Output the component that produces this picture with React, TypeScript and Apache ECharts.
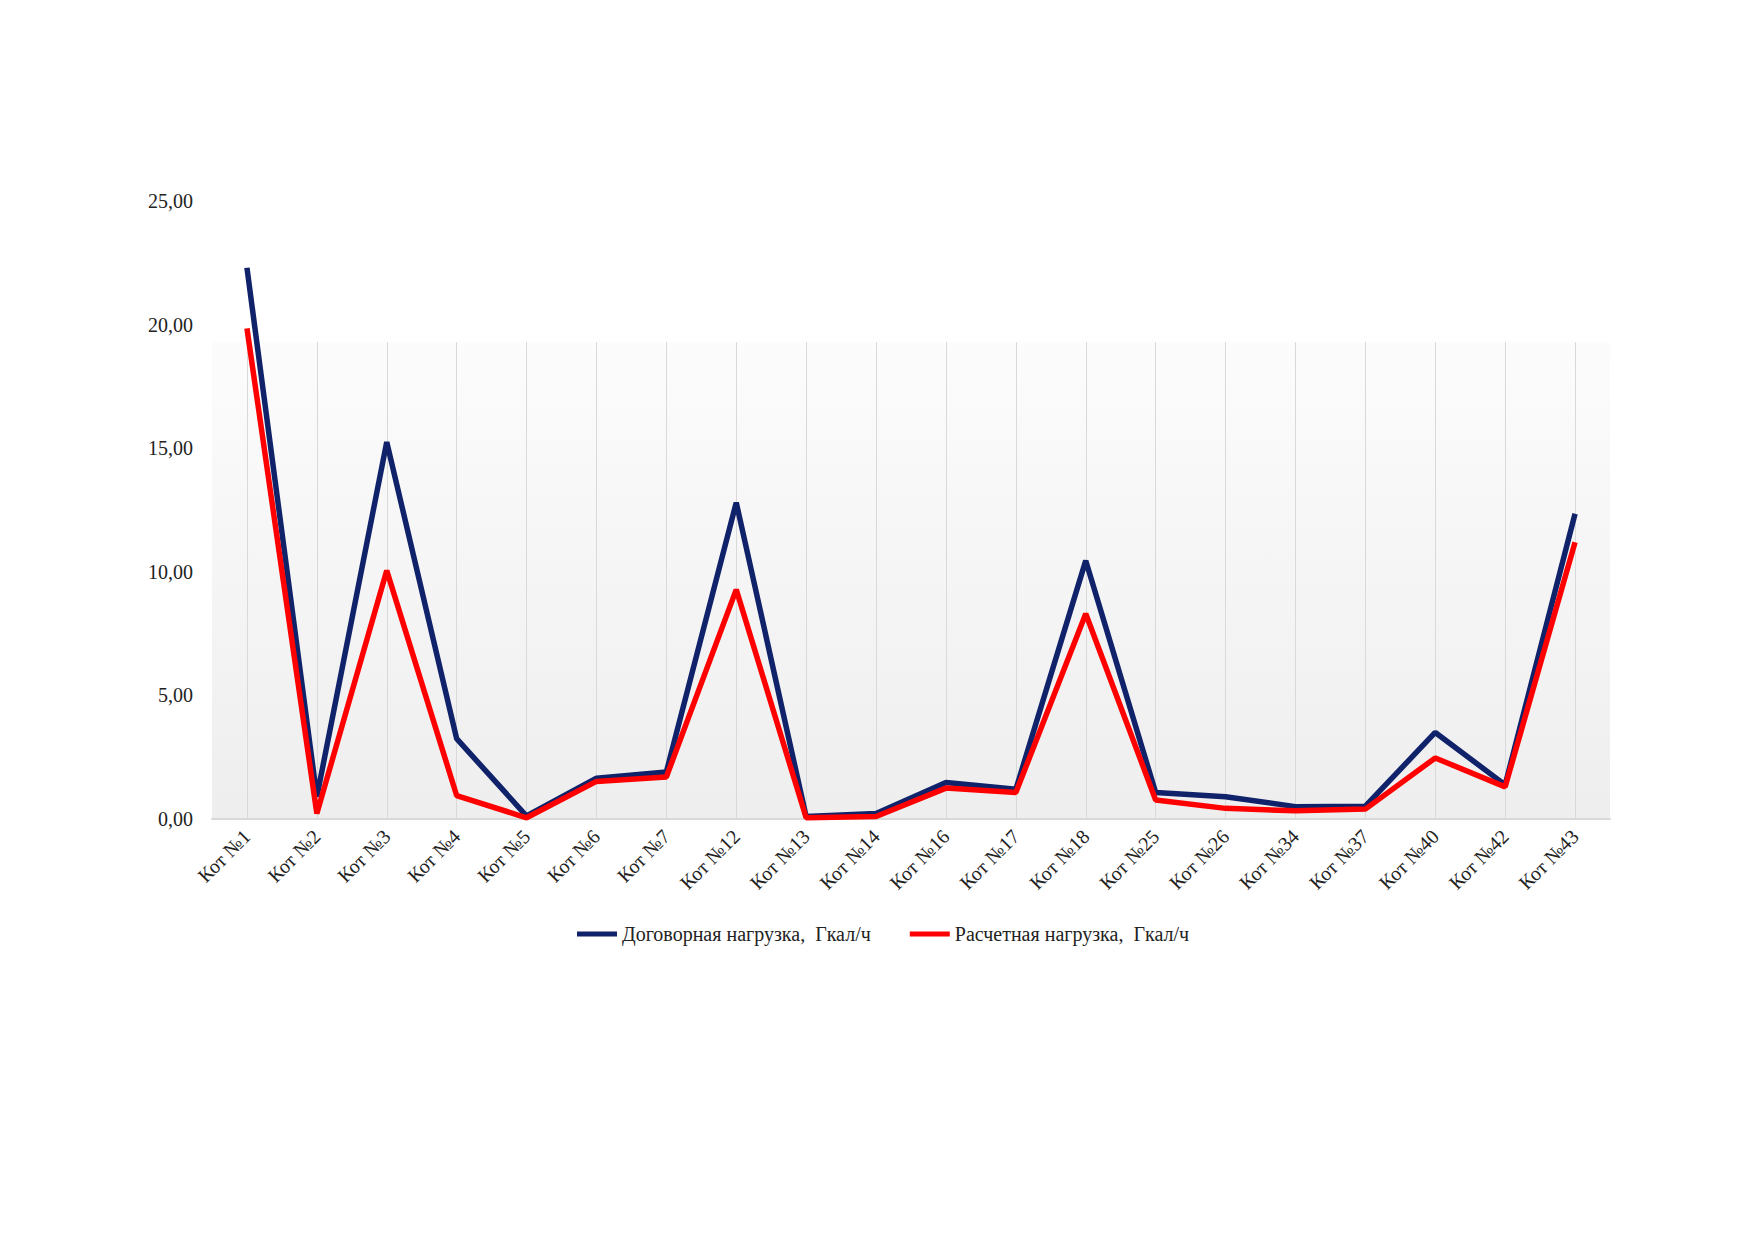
import React, { useEffect, useRef } from "react";
import * as echarts from "echarts";

const categories = [
  "Кот №1", "Кот №2", "Кот №3", "Кот №4", "Кот №5", "Кот №6", "Кот №7",
  "Кот №12", "Кот №13", "Кот №14", "Кот №16", "Кот №17", "Кот №18",
  "Кот №25", "Кот №26", "Кот №34", "Кот №37", "Кот №40", "Кот №42", "Кот №43",
];

const contractName = "Договорная нагрузка,  Гкал/ч";
const contractLoad = [
  22.3, 0.9, 15.25, 3.25, 0.12, 1.65, 1.9, 12.8, 0.1, 0.22,
  1.48, 1.2, 10.45, 1.07, 0.9, 0.5, 0.52, 3.5, 1.38, 12.35,
];

const calcName = "Расчетная нагрузка,  Гкал/ч";
const calcLoad = [
  19.85, 0.22, 10.05, 0.95, 0.05, 1.52, 1.7, 9.28, 0.05, 0.1,
  1.25, 1.07, 8.3, 0.77, 0.43, 0.33, 0.4, 2.47, 1.3, 11.2,
];

const yTicks = { min: 0, max: 25, interval: 5 };

const FONT = "'Liberation Serif', 'Times New Roman', serif";

export default function App() {
  const ref = useRef<HTMLDivElement>(null);
  useEffect(() => {
    if (!ref.current) return;
    const chart = echarts.init(ref.current, undefined, { renderer: "svg" });
    const gridLeft = 212;
    const gridRight = 142;
    const gridBottom = 420;
    chart.setOption({
      animation: false,
      backgroundColor: "#ffffff",
      textStyle: { fontFamily: FONT },
      grid: [
        {
          left: gridLeft,
          right: gridRight,
          top: 201,
          bottom: gridBottom,
          show: false,
        },
        {
          left: gridLeft,
          right: gridRight,
          top: 342,
          bottom: gridBottom,
          show: true,
          borderWidth: 0,
          backgroundColor: {
            type: "linear",
            x: 0, y: 0, x2: 0, y2: 1,
            colorStops: [
              { offset: 0, color: "#fcfcfc" },
              { offset: 1, color: "#eeeeee" },
            ],
          },
        },
      ],
      legend: {
        left: 572,
        top: 919,
        itemGap: 39,
        itemWidth: 40,
        itemHeight: 5,
        icon: "rect",
        textStyle: { fontFamily: FONT, fontSize: 20, color: "#222" },
        data: [contractName, calcName],
      },
      xAxis: [
        {
          type: "category",
          gridIndex: 0,
          data: categories,
          boundaryGap: true,
          axisLine: { show: true, lineStyle: { color: "#d9d9d9", width: 2 } },
          axisTick: { show: false },
          splitLine: { show: false },
          axisLabel: {
            rotate: 45,
            margin: 14,
            fontFamily: FONT,
            fontSize: 20,
            color: "#222",
            interval: 0,
          },
          z: 3,
        },
        {
          type: "category",
          gridIndex: 1,
          data: categories,
          boundaryGap: true,
          axisLine: { show: false },
          axisTick: { show: false },
          axisLabel: { show: false },
          splitLine: {
            show: true,
            alignWithLabel: true,
            lineStyle: { color: "#d9d9d9", width: 1 },
          },
        },
      ],
      yAxis: [
        {
          type: "value",
          gridIndex: 0,
          min: yTicks.min,
          max: yTicks.max,
          interval: yTicks.interval,
          axisLine: { show: false },
          axisTick: { show: false },
          splitLine: { show: false },
          axisLabel: {
            margin: 19,
            fontFamily: FONT,
            fontSize: 20,
            color: "#222",
            formatter: (v: number) => v.toFixed(2).replace(".", ","),
          },
        },
        {
          type: "value",
          gridIndex: 1,
          show: false,
          splitLine: { show: false },
        },
      ],
      series: [
        {
          name: contractName,
          type: "line",
          xAxisIndex: 0,
          yAxisIndex: 0,
          data: contractLoad,
          symbol: "none",
          lineStyle: { color: "#10236a", width: 5.5 },
          itemStyle: { color: "#10236a" },
          z: 4,
        },
        {
          name: calcName,
          type: "line",
          xAxisIndex: 0,
          yAxisIndex: 0,
          data: calcLoad,
          symbol: "none",
          lineStyle: { color: "#ff0000", width: 5.5 },
          itemStyle: { color: "#ff0000" },
          z: 5,
        },
      ],
    });
    return () => chart.dispose();
  }, []);
  return (
    <div
      ref={ref}
      style={{ position: "absolute", left: 0, top: 0, width: 1752, height: 1239 }}
    />
  );
}
